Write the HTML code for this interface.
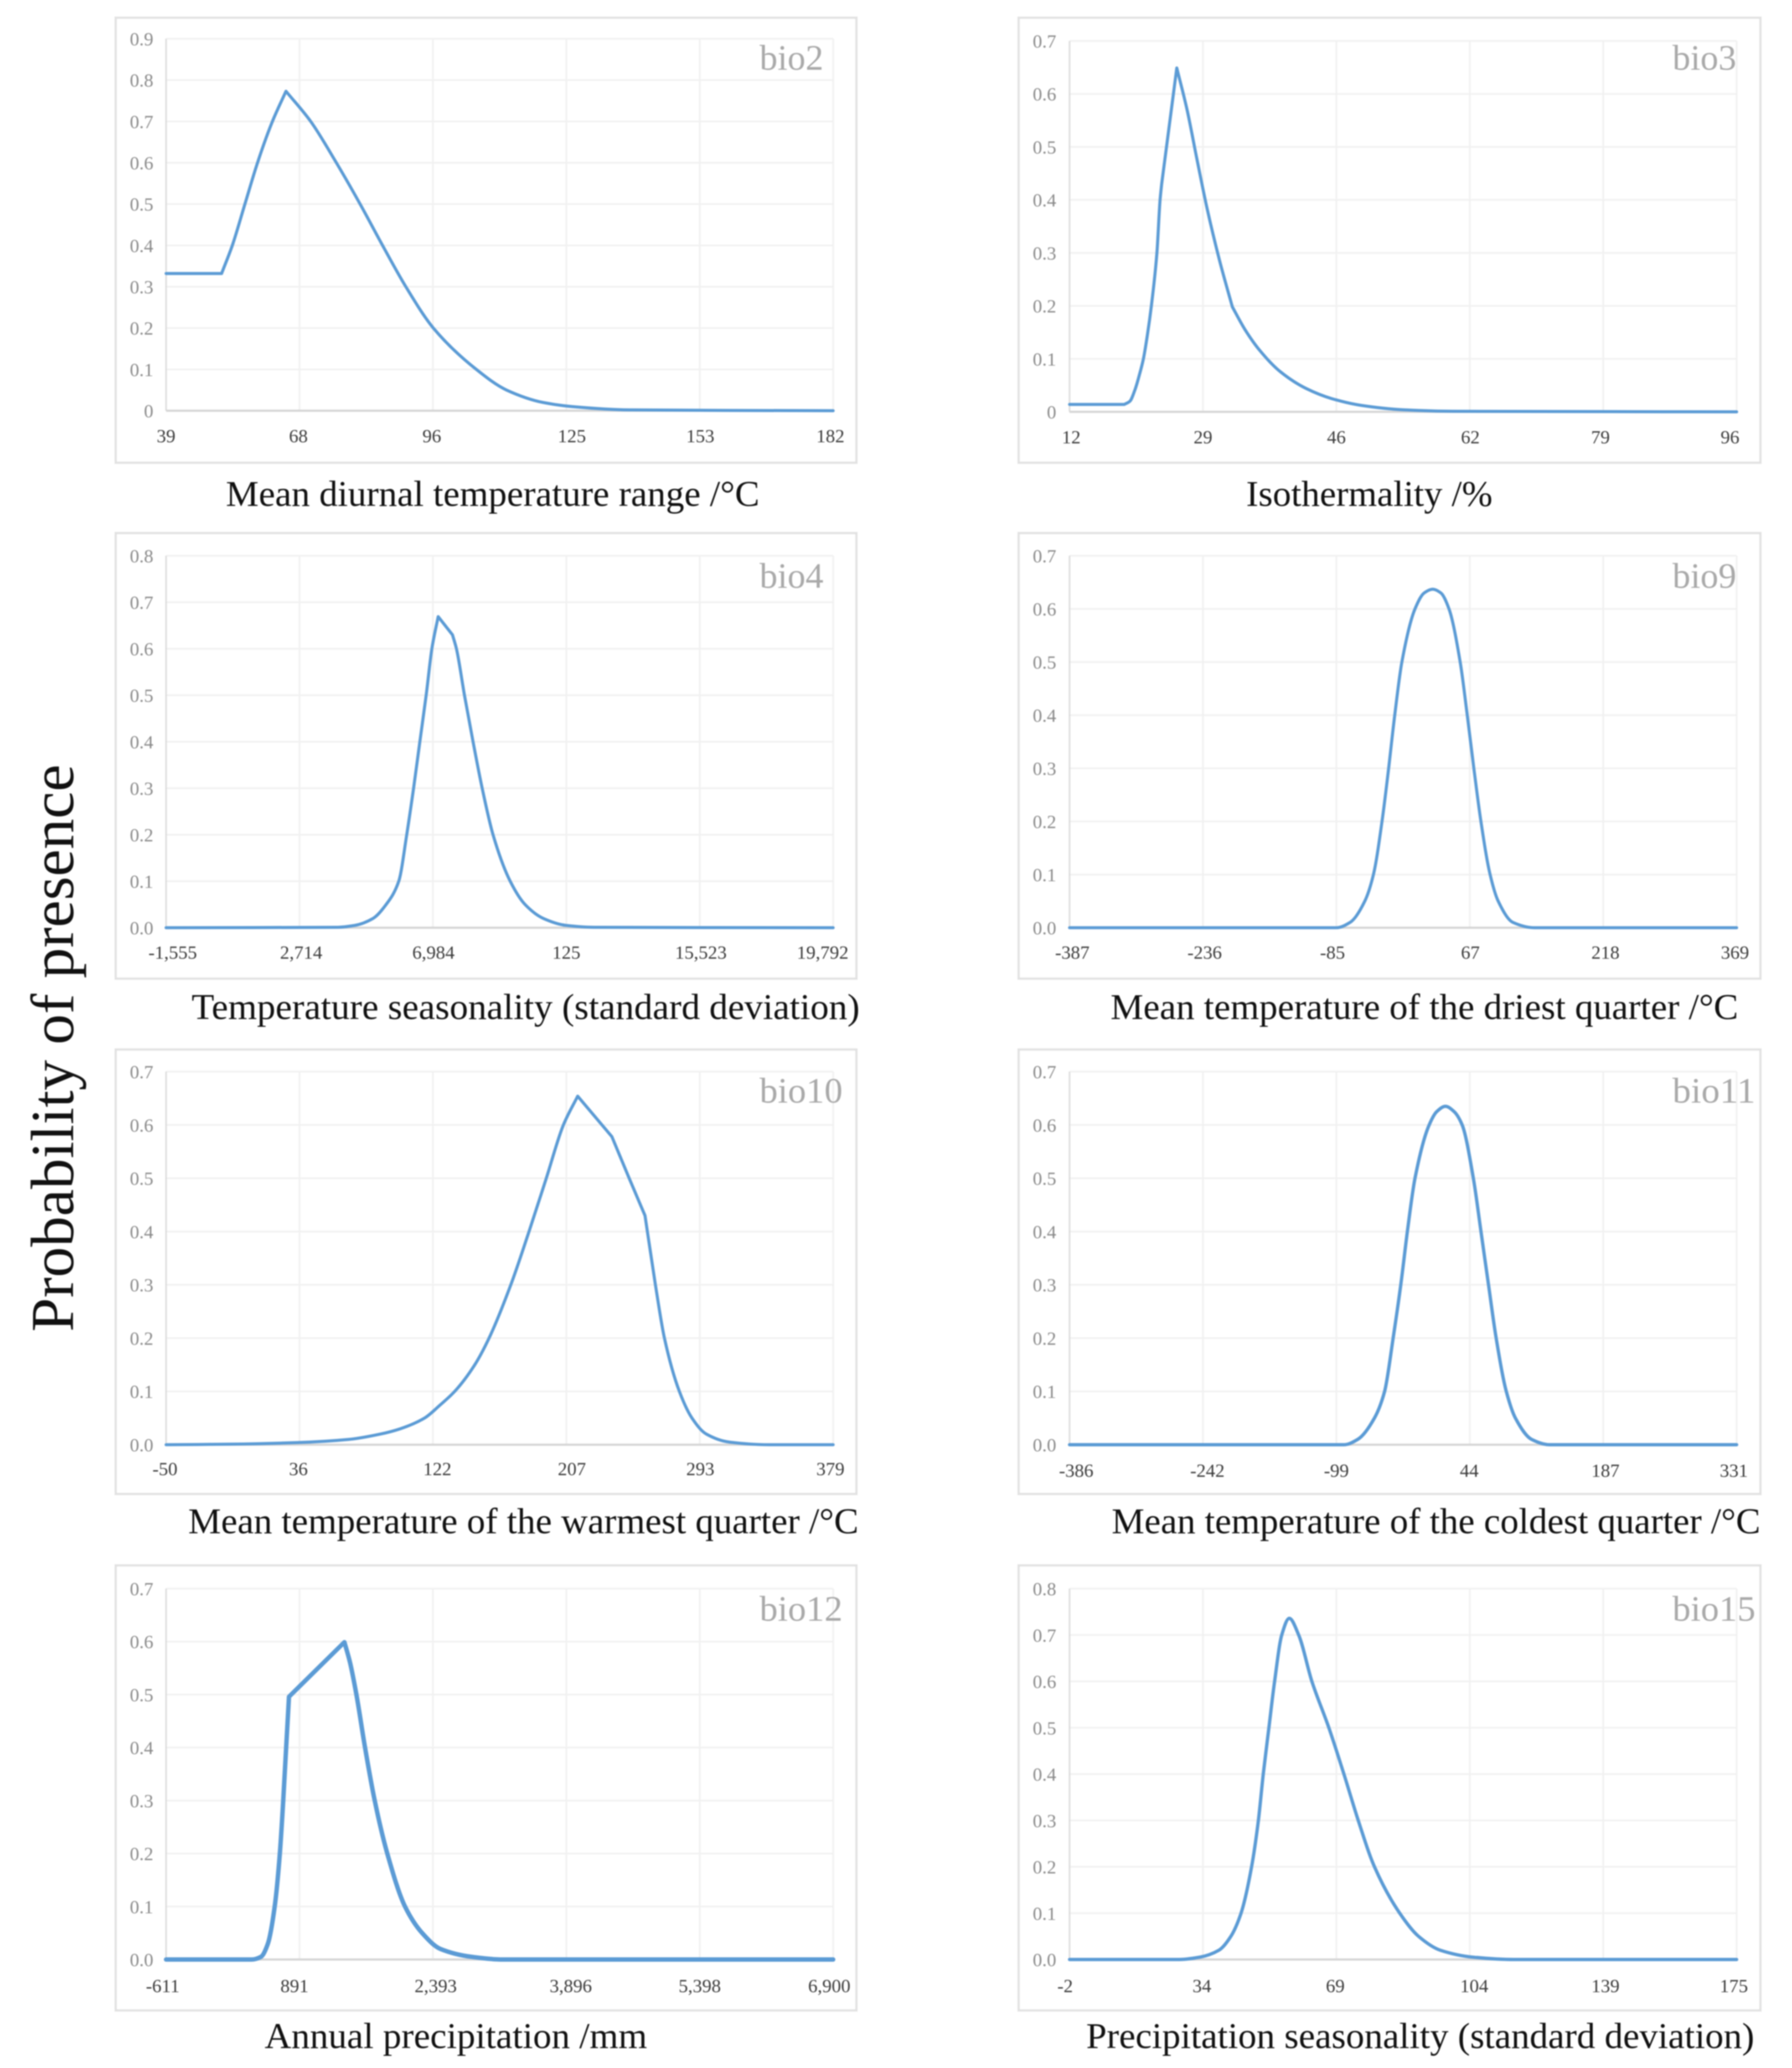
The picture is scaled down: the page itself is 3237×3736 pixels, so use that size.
<!DOCTYPE html>
<html lang="en">
<head>
<meta charset="utf-8">
<title>Response curves: probability of presence</title>
<style>
html,body{margin:0;padding:0;background:#fff;}
#figure{display:block;width:3237px;height:3736px;filter:blur(1px);font-family:"Liberation Serif",serif;}
.xt{font-size:66px;fill:#111;}
.bio{font-size:65px;fill:#a9a9a9;}
.yt{font-size:110px;fill:#111;}
.tickY{font-size:34px;fill:#8a8a8a;text-anchor:end;}
.tickX{font-size:34px;fill:#3c3c3c;text-anchor:middle;}
</style>
</head>
<body>
<svg id="figure" xmlns="http://www.w3.org/2000/svg" width="3237" height="3736" viewBox="0 0 3237 3736">
  <rect x="0" y="0" width="3237" height="3736" fill="#fff"/>
  <g id="panels"></g>

  <text class="yt" transform="translate(132 2406) rotate(-90)" textLength="1025" lengthAdjust="spacingAndGlyphs">Probability of presence</text>

  <text class="xt" x="408" y="914" textLength="964" lengthAdjust="spacingAndGlyphs">Mean diurnal temperature range /°C</text>
  <text class="xt" x="2251" y="914" textLength="445" lengthAdjust="spacingAndGlyphs">Isothermality /%</text>
  <text class="xt" x="346" y="1841" textLength="1207" lengthAdjust="spacingAndGlyphs">Temperature seasonality (standard deviation)</text>
  <text class="xt" x="2006" y="1841" textLength="1134" lengthAdjust="spacingAndGlyphs">Mean temperature of the driest quarter /°C</text>
  <text class="xt" x="340" y="2770" textLength="1211" lengthAdjust="spacingAndGlyphs">Mean temperature of the warmest quarter /°C</text>
  <text class="xt" x="2008" y="2770" textLength="1172" lengthAdjust="spacingAndGlyphs">Mean temperature of the coldest quarter /°C</text>
  <text class="xt" x="478" y="3700" textLength="691" lengthAdjust="spacingAndGlyphs">Annual precipitation /mm</text>
  <text class="xt" x="1962" y="3700" textLength="1207" lengthAdjust="spacingAndGlyphs">Precipitation seasonality (standard deviation)</text>

  <g id="badges">
    <text class="bio" x="1372" y="126">bio2</text>
    <text class="bio" x="3021" y="126">bio3</text>
    <text class="bio" x="1372" y="1062">bio4</text>
    <text class="bio" x="3021" y="1062">bio9</text>
    <text class="bio" x="1372" y="1992" textLength="150" lengthAdjust="spacingAndGlyphs">bio10</text>
    <text class="bio" x="3021" y="1992" textLength="150" lengthAdjust="spacingAndGlyphs">bio11</text>
    <text class="bio" x="1372" y="2928" textLength="150" lengthAdjust="spacingAndGlyphs">bio12</text>
    <text class="bio" x="3021" y="2928" textLength="150" lengthAdjust="spacingAndGlyphs">bio15</text>
  </g>
</svg>

<script>
// ---- Data: values ----
const bio2XTicks = ["39","68","96","125","153","182"];
const bio2YTicks = ["0","0.1","0.2","0.3","0.4","0.5","0.6","0.7","0.8","0.9"];
const bio2X = [39,50.9,53.2,55.9,58.6,61.8,64.7,70,75.5,80.6,85.4,90.4,96.3,105.5,112,119.8,126,138.3,182];
const bio2Y = [0.332,0.332,0.4,0.5,0.6,0.7,0.773,0.7,0.6,0.5,0.4,0.3,0.2,0.1,0.05,0.02,0.01,0.002,0];
const bio2Range = [39,182];

const bio3XTicks = ["12","29","46","62","79","96"];
const bio3YTicks = ["0","0.1","0.2","0.3","0.4","0.5","0.6","0.7"];
const bio3X = [12,18.9,19.6,20.2,20.8,21.3,21.8,22.3,23,23.4,23.6,25.5,26.8,28,29.3,30.9,32.5,34.1,36,38.6,41.8,45,48.8,53.9,60.3,96];
const bio3Y = [0.014,0.014,0.02,0.04,0.07,0.1,0.145,0.2,0.3,0.4,0.43,0.649,0.57,0.48,0.385,0.285,0.198,0.155,0.115,0.075,0.044,0.025,0.012,0.004,0.001,0];
const bio3Range = [12,96];

const bio4XTicks = ["-1,555","2,714","6,984","125","15,523","19,792"];
const bio4YTicks = ["0.0","0.1","0.2","0.3","0.4","0.5","0.6","0.7","0.8"];
const bio4X = [-1555,3933,4481,5067,5487,5890,6146,6365,6566,6768,6951,7152,7609,7737,7993,8268,8560,8908,9457,9932,10518,11249,12164,19792];
const bio4Y = [0,0.001,0.005,0.02,0.05,0.1,0.2,0.3,0.4,0.5,0.6,0.669,0.63,0.6,0.5,0.4,0.3,0.2,0.1,0.05,0.02,0.005,0.001,0];
const bio4Range = [-1555,19792];

const bio9XTicks = ["-387","-236","-85","67","218","369"];
const bio9YTicks = ["0.0","0.1","0.2","0.3","0.4","0.5","0.6","0.7"];
const bio9X = [-387,-84.6,-69.1,-52.4,-42.6,-32.9,-25.4,-18.5,-10.4,4.5,14.9,24.6,33.8,43,55.7,63.7,71.2,79.2,89.6,98.8,115.5,139.6,369];
const bio9Y = [0,0,0.01,0.05,0.1,0.2,0.3,0.4,0.5,0.6,0.63,0.637,0.63,0.6,0.5,0.4,0.3,0.2,0.1,0.05,0.01,0,0];
const bio9Range = [-387,369];

const bio10XTicks = ["-50","36","122","207","293","379"];
const bio10YTicks = ["0.0","0.1","0.2","0.3","0.4","0.5","0.6","0.7"];
const bio10X = [-50,-9.6,34.6,67.6,87.9,100.7,116.2,126.4,135.6,148.5,157.7,171.7,183.4,194.5,205.5,214.7,236.7,247.8,258,264.7,270.5,280.1,288.2,297.4,312.1,337.8,379];
const bio10Y = [0,0.001,0.004,0.01,0.02,0.03,0.05,0.075,0.1,0.15,0.2,0.3,0.4,0.5,0.6,0.654,0.578,0.5,0.43,0.3,0.2,0.1,0.05,0.02,0.005,0,0];
const bio10Range = [-50,379];

const bio11XTicks = ["-386","-242","-99","44","187","331"];
const bio11YTicks = ["0.0","0.1","0.2","0.3","0.4","0.5","0.6","0.7"];
const bio11X = [-386,-91,-76.3,-58.3,-47.4,-38.2,-30,-22.9,-14.7,0.5,8.7,18,27.3,36,48,56.2,64.3,72.5,83.4,93.2,110.7,129.8,331];
const bio11Y = [0,0,0.01,0.05,0.1,0.2,0.3,0.4,0.5,0.6,0.625,0.635,0.625,0.6,0.5,0.4,0.3,0.2,0.1,0.05,0.01,0,0];
const bio11Range = [-386,331];

const bio12XTicks = ["-611","891","2,393","3,896","5,398","6,900"];
const bio12YTicks = ["0.0","0.1","0.2","0.3","0.4","0.5","0.6","0.7"];
const bio12X = [-611,354,457,535,612,670,708,741,773,1397,1461,1532,1629,1738,1880,2079,2272,2478,2832,3186,6900];
const bio12Y = [0,0,0.005,0.03,0.1,0.2,0.3,0.4,0.496,0.599,0.56,0.5,0.4,0.3,0.2,0.1,0.05,0.02,0.005,0,0];
const bio12Range = [-611,6900];

const bio15XTicks = ["-2","34","69","104","139","175"];
const bio15YTicks = ["0.0","0.1","0.2","0.3","0.4","0.5","0.6","0.7","0.8"];
const bio15X = [-2,27.1,32.5,37.6,40.8,43.5,46.3,48.1,49.4,50.9,52.4,54.3,56.3,58.8,62.3,66.8,70.8,74.6,78.9,85.6,90.6,96.4,105.1,115.9,175];
const bio15Y = [0,0,0.005,0.02,0.05,0.1,0.2,0.3,0.4,0.5,0.6,0.7,0.736,0.7,0.6,0.5,0.4,0.3,0.2,0.1,0.05,0.02,0.005,0,0];
const bio15Range = [-2,175];

// ---- Layout (frame geometry only) ----
const COL_L = {px0:209, px1:1547, ax0:300, ax1:1505, yLabelX:277};
const COL_R = {px0:1840, px1:3180, ax0:1932, ax1:3137, yLabelX:1908};
const panels = [
  {id:"bio2",  col:COL_L, py0:32,   py1:836,  top:70,   zero:742, dy:57, lw:5.5, xs:bio2X,  ys:bio2Y,  range:bio2Range,  xt:bio2XTicks,  yt:bio2YTicks,  corners:[1,6],        nudge:[0,-2,-2,10,1,-5]},
  {id:"bio3",  col:COL_R, py0:32,   py1:836,  top:74,   zero:744, dy:57, lw:5.5, xs:bio3X,  ys:bio3Y,  range:bio3Range,  xt:bio3XTicks,  yt:bio3YTicks,  corners:[1,10,11,16], nudge:[3,0,0,1,-5,-12]},
  {id:"bio4",  col:COL_L, py0:963,  py1:1768, top:1004, zero:1676,dy:56, lw:5.5, xs:bio4X,  ys:bio4Y,  range:bio4Range,  xt:bio4XTicks,  yt:bio4YTicks,  corners:[11,12],      nudge:[12,3,1,0,2,-19]},
  {id:"bio9",  col:COL_R, py0:963,  py1:1768, top:1004, zero:1676,dy:56, lw:5.5, xs:bio9X,  ys:bio9Y,  range:bio9Range,  xt:bio9XTicks,  yt:bio9YTicks,  corners:[],           nudge:[5,3,-7,1,4,-3]},
  {id:"bio10", col:COL_L, py0:1896, py1:2699, top:1936, zero:2610,dy:55, lw:5.5, xs:bio10X, ys:bio10Y, range:bio10Range, xt:bio10XTicks, yt:bio10YTicks, corners:[15,16,18],   nudge:[-2,-2,8,10,1,-5]},
  {id:"bio11", col:COL_R, py0:1896, py1:2699, top:1936, zero:2610,dy:58, lw:6,   xs:bio11X, ys:bio11Y, range:bio11Range, xt:bio11XTicks, yt:bio11YTicks, corners:[],           nudge:[12,8,0,-1,4,-5]},
  {id:"bio12", col:COL_L, py0:2828, py1:3632, top:2870, zero:3540,dy:59, lw:8,   xs:bio12X, ys:bio12Y, range:bio12Range, xt:bio12XTicks, yt:bio12YTicks, corners:[8,9],        nudge:[-6,-9,5,8,0,-7]},
  {id:"bio15", col:COL_R, py0:2828, py1:3632, top:2870, zero:3540,dy:59, lw:6,   xs:bio15X, ys:bio15Y, range:bio15Range, xt:bio15XTicks, yt:bio15YTicks, corners:[],           nudge:[-8,-2,-2,8,4,-5]}
];

const NS = "http://www.w3.org/2000/svg";
function mk(parent, tag, attrs, text){
  const el = document.createElementNS(NS, tag);
  for(const k in attrs) el.setAttribute(k, attrs[k]);
  if(text !== undefined) el.textContent = text;
  parent.appendChild(el);
  return el;
}

// Monotone (PCHIP-style) cubic through the data points, with sharp breaks at corner indices.
function curvePath(pts, corners){
  const n = pts.length;
  const sec = [];
  for(let i=0;i<n-1;i++) sec.push((pts[i+1][1]-pts[i][1])/(pts[i+1][0]-pts[i][0]));
  const slope = pts.map(function(p,i){
    if(i===0||i===n-1||corners.includes(i)) return null;
    const a=sec[i-1], b=sec[i];
    if(a*b<=0) return 0;
    const h0=pts[i][0]-pts[i-1][0], h1=pts[i+1][0]-pts[i][0];
    const w1=2*h1+h0, w2=h1+2*h0;
    return (w1+w2)/(w1/a+w2/b);
  });
  let d = "M"+pts[0][0].toFixed(1)+" "+pts[0][1].toFixed(1);
  for(let i=0;i<n-1;i++){
    const a=pts[i], b=pts[i+1], h=(b[0]-a[0])/3;
    const c1 = slope[i]===null ? [a[0]+h, a[1]+sec[i]*h] : [a[0]+h, a[1]+slope[i]*h];
    const c2 = slope[i+1]===null ? [b[0]-h, b[1]-sec[i]*h] : [b[0]-h, b[1]-slope[i+1]*h];
    d += " C"+c1[0].toFixed(1)+" "+c1[1].toFixed(1)+" "+c2[0].toFixed(1)+" "+c2[1].toFixed(1)+" "+b[0].toFixed(1)+" "+b[1].toFixed(1);
  }
  return d;
}

const root = document.getElementById("panels");
panels.forEach(function(p){
  const c = p.col;
  const yMax = parseFloat(p.yt[p.yt.length-1]);
  const sx = function(v){ return c.ax0 + (v-p.range[0])/(p.range[1]-p.range[0])*(c.ax1-c.ax0); };
  const sy = function(v){ return p.zero - v/yMax*(p.zero-p.top); };

  const g = mk(root,"g",{});
  
  

  const frame = mk(g,"rect",{x:c.px0,y:p.py0,width:c.px1-c.px0,height:p.py1-p.py0,fill:"#fff",stroke:"#e2e2e2","stroke-width":4});
  
  

  p.yt.forEach(function(label){
    const y = sy(parseFloat(label));
    if(parseFloat(label) !== 0){
      const line = mk(g,"line",{x1:c.ax0,x2:c.ax1,y1:y,y2:y,stroke:"#f1f1f1","stroke-width":3});
      
      
    }
    const t = mk(g,"text",{x:c.yLabelX,y:y+12,class:"tickY"},label);
    
    
  });

  const step = (c.ax1-c.ax0)/(p.xt.length-1);
  p.xt.forEach(function(label,i){
    const x = c.ax0 + i*step;
    if(i>0){
      const line = mk(g,"line",{x1:x,x2:x,y1:p.top,y2:p.zero,stroke:"#f1f1f1","stroke-width":3});
      
      
    }
    const t = mk(g,"text",{x:x+p.nudge[i],y:p.zero+p.dy,class:"tickX"},label);
    
    
  });

  const yAxis = mk(g,"line",{x1:c.ax0,x2:c.ax0,y1:p.top,y2:p.zero,stroke:"#dedede","stroke-width":3});
  
  

  const xAxis = mk(g,"line",{x1:c.ax0,x2:c.ax1,y1:p.zero,y2:p.zero,stroke:"#d6d6d6","stroke-width":4});
  
  

  const pts = p.xs.map(function(v,i){ return [sx(v), sy(p.ys[i])]; });
  const curve = mk(g,"path",{d:curvePath(pts,p.corners),fill:"none",stroke:"#5b9bd5","stroke-width":p.lw,"stroke-linejoin":"round","stroke-linecap":"round"});
  
  
});
</script>
</body>
</html>
